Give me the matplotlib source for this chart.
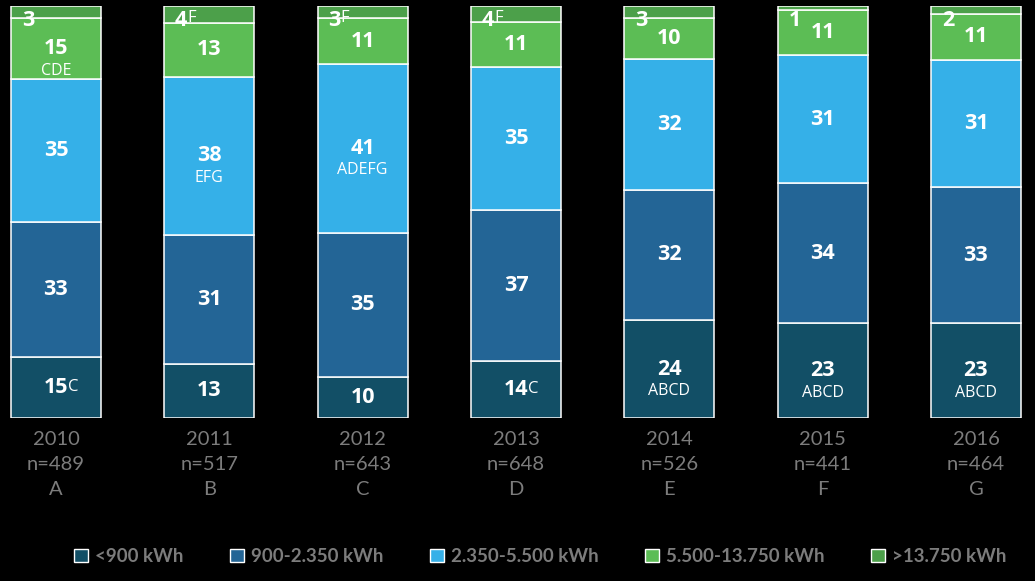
import matplotlib
matplotlib.use('Agg')
import matplotlib.pyplot as plt
import numpy as np
from matplotlib.patches import Patch

years = ['2010', '2011', '2012', '2013', '2014', '2015', '2016']
counts = [489, 517, 643, 648, 526, 441, 464]
groups = ['A', 'B', 'C', 'D', 'E', 'F', 'G']

series = ['<900 kWh', '900-2.350 kWh', '2.350-5.500 kWh', '5.500-13.750 kWh', '>13.750 kWh']
lt900 = [15, 13, 10, 14, 24, 23, 23]
s900_2350 = [33, 31, 35, 37, 32, 34, 33]
s2350_5500 = [35, 38, 41, 35, 32, 31, 31]
s5500_13750 = [15, 13, 11, 11, 10, 11, 11]
gt13750 = [3, 4, 3, 4, 3, 1, 2]

# significance letters: (bar, segment, letters, where)
sig_notes = [
    (0, 0, 'C', 'right'),
    (0, 3, 'CDE', 'below'),
    (1, 2, 'EFG', 'below'),
    (1, 4, 'F', 'right'),
    (2, 2, 'ADEFG', 'below'),
    (2, 4, 'F', 'right'),
    (3, 0, 'C', 'right'),
    (3, 4, 'F', 'right'),
    (4, 0, 'ABCD', 'below'),
    (5, 0, 'ABCD', 'below'),
    (6, 0, 'ABCD', 'below'),
]

colors = ['#124F66', '#236596', '#35B0E8', '#5CBD55', '#4CA04A']
grey = '#7c7c7c'

data = np.array([lt900, s900_2350, s2350_5500, s5500_13750, gt13750], dtype=float)
pct = data / data.sum(axis=0) * 100

fig = plt.figure(figsize=(10.35, 5.81), dpi=100, facecolor='black')
ax = fig.add_axes([0, 1 - 418 / 581, 1, 412 / 581])
ax.set_facecolor('black')

x = np.arange(len(years))
width = 0.587
bottom = np.zeros(len(years))
for i in range(len(series)):
    ax.bar(x, pct[i], width, bottom=bottom, color=colors[i],
           edgecolor='white', linewidth=1.1, label=series[i])
    for j in range(len(years)):
        val = int(data[i, j])
        if i == 4:
            tx, ty = x[j] - 0.183, 96.4
        else:
            tx, ty = x[j], bottom[j] + pct[i, j] / 2
        ax.text(tx, ty, str(val), ha='center', va='center', color='white',
                fontsize=15.5, fontweight='bold', family='Open Sans')
    bottom += pct[i]

cum = np.vstack([np.zeros(len(years)), np.cumsum(pct, axis=0)])
for b, s, letters, where in sig_notes:
    yc = (cum[s, b] + cum[s + 1, b]) / 2
    if where == 'below':
        ax.annotate(letters, (x[b], yc), xytext=(0, -16), textcoords='offset points',
                    ha='center', va='center', color='white', fontsize=11.5,
                    family='Open Sans')
    else:
        if s == 4:
            px, py = x[b] - 0.183, 96.4
            off = (4.5, 2)
        else:
            px, py = x[b], yc
            off = (8.5, 0)
        ax.annotate(letters, (px, py), xytext=off, textcoords='offset points',
                    ha='left', va='center', color='white', fontsize=12,
                    family='Open Sans')

ax.set_xlim(-0.365, 6.385)
ax.set_ylim(0, 100)
ax.set_yticks([])
ax.set_xticks(x)
ax.set_xticklabels([f'{y}\nn={n}\n{g}' for y, n, g in zip(years, counts, groups)],
                   color=grey, fontsize=14.5, family='Lato', linespacing=1.58)
ax.tick_params(axis='x', length=0, pad=9.5)
for sp in ax.spines.values():
    sp.set_visible(False)

handles = [Patch(facecolor=c, edgecolor='white', linewidth=1) for c in colors]
leg = fig.legend(handles, series, loc='center', bbox_to_anchor=(0.522, 0.042),
                 ncol=5, frameon=False, handlelength=0.75, handleheight=0.75,
                 handletextpad=0.35, columnspacing=2.5,
                 prop={'family': 'Lato', 'weight': 'bold', 'size': 13.5})
for t in leg.get_texts():
    t.set_color(grey)

fig.savefig('out.png', dpi=100, facecolor='black')
